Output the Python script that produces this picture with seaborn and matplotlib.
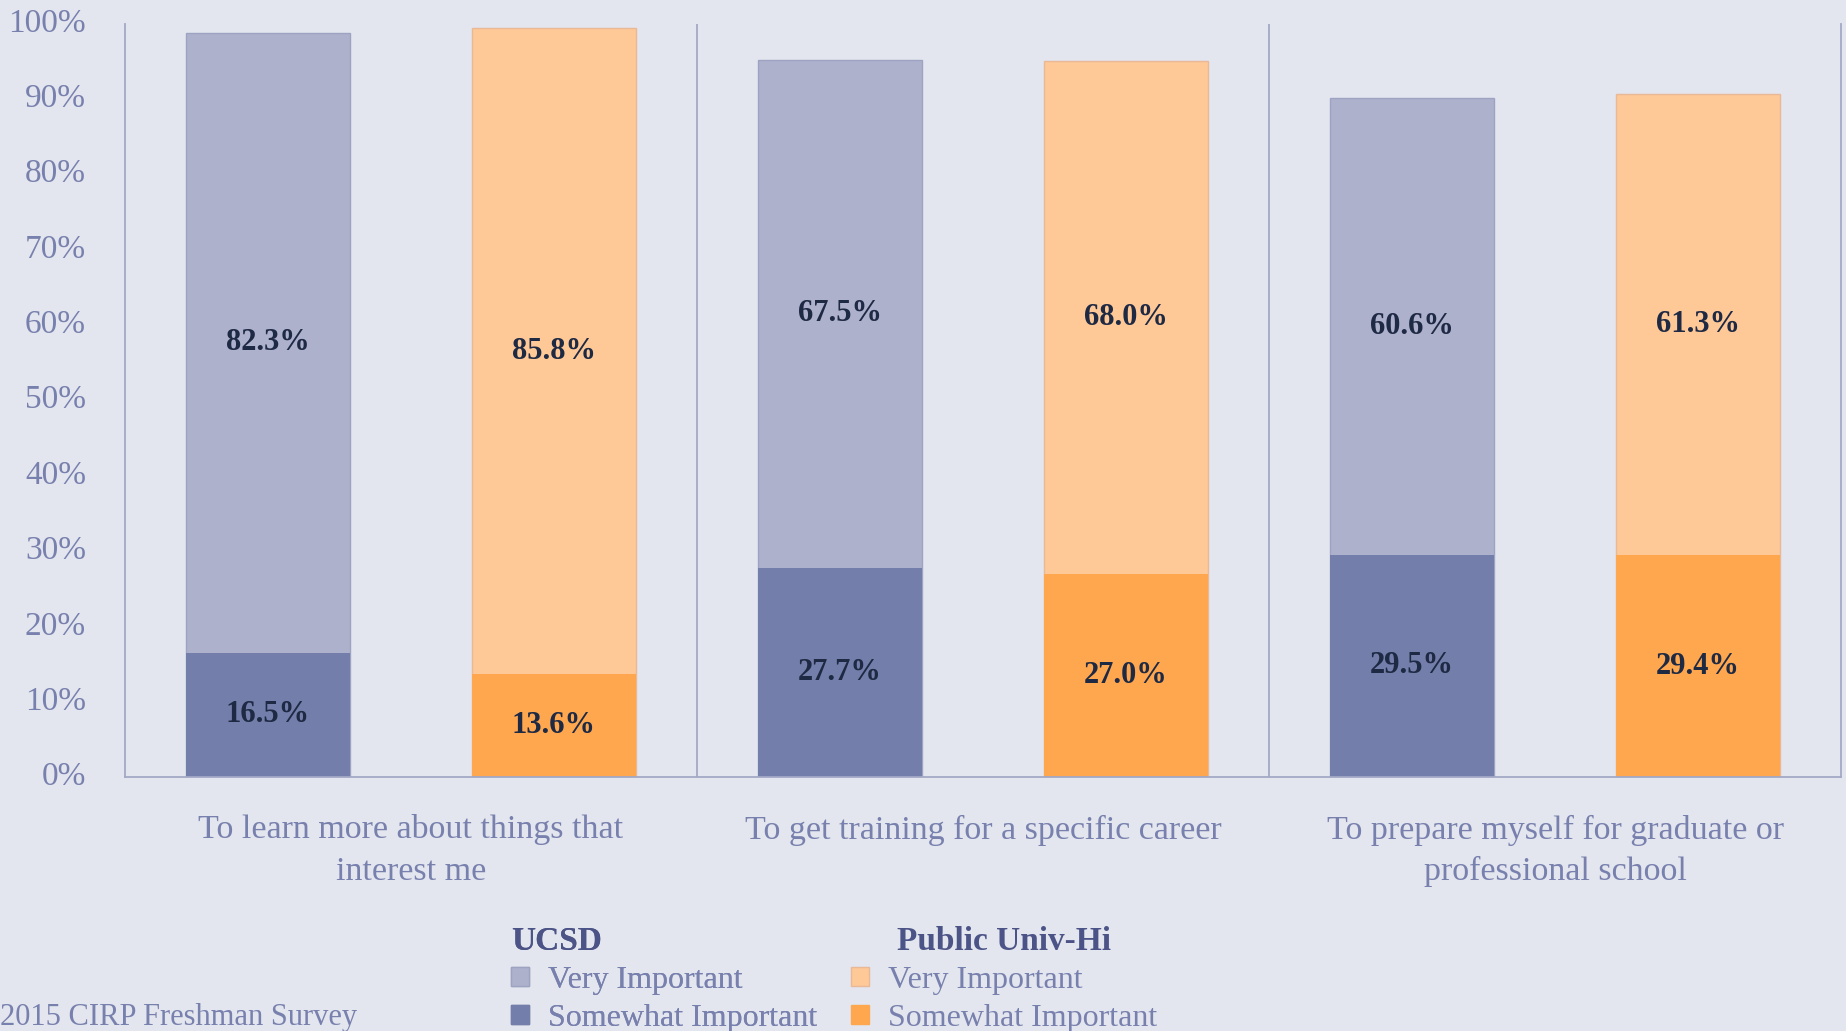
import numpy as np
import pandas as pd
import matplotlib.pyplot as plt
import seaborn as sns
from matplotlib.patches import Patch

# ---- data ----
categories = ["To learn more about things that\ninterest me",
              "To get training for a specific career",
              "To prepare myself for graduate or\nprofessional school"]
schools = ["UCSD", "Public Univ-Hi"]
ucsd_very = [82.3, 67.5, 60.6]
ucsd_somewhat = [16.5, 27.7, 29.5]
pub_very = [85.8, 68.0, 61.3]
pub_somewhat = [13.6, 27.0, 29.4]
y_ticks = [0, 10, 20, 30, 40, 50, 60, 70, 80, 90, 100]
source = "2015 CIRP Freshman Survey"

rows = []
for i, cat in enumerate(categories):
    rows.append((cat, "UCSD", ucsd_very[i], ucsd_somewhat[i]))
    rows.append((cat, "Public Univ-Hi", pub_very[i], pub_somewhat[i]))
df = pd.DataFrame(rows, columns=["category", "school", "very", "somewhat"])
df["total"] = df["very"] + df["somewhat"]

# colours
bg = "#E3E6EE"
light = {"UCSD": "#ADB1CC", "Public Univ-Hi": "#FFC997"}
dark = {"UCSD": "#737EAB", "Public Univ-Hi": "#FFA74F"}
edge_light = {"UCSD": "#9EA3C2", "Public Univ-Hi": "#E9B896"}
axis_col = "#A3A8C6"
tick_col = "#7880AE"
label_col = "#1E2943"
head_col = "#4C5487"

sns.set_style("white")
plt.rcParams["font.family"] = ["Liberation Serif", "DejaVu Serif"]

fig = plt.figure(figsize=(18.46, 10.31), dpi=100, facecolor=bg)
ax = fig.add_axes([0.0677, 0.2464, 0.9296, 0.7308], facecolor=bg)

# total bar first (light = very important on top), then somewhat on top of it
sns.barplot(data=df, x="category", y="total", hue="school", hue_order=schools,
            palette=light, saturation=1, width=1.0, gap=0.424, ax=ax, legend=False,
            linewidth=1, edgecolor="#A0A5C3")
sns.barplot(data=df, x="category", y="somewhat", hue="school", hue_order=schools,
            palette=dark, saturation=1, width=1.0, gap=0.424, ax=ax, legend=False,
            linewidth=0)

# tint edges per school
for k, school in enumerate(schools):
    for p in ax.containers[k]:
        p.set_edgecolor(edge_light[school])

# value labels
for k, school in enumerate(schools):
    sub = df[df["school"] == school].reset_index(drop=True)
    for p, (_, r) in zip(ax.containers[k], sub.iterrows()):
        xc = p.get_x() + p.get_width() / 2
        ax.text(xc, r["somewhat"] + r["very"] / 2, f"{r['very']:.1f}%",
                ha="center", va="center", fontsize=22, fontweight="bold", color=label_col)
        ax.text(xc, r["somewhat"] / 2, f"{r['somewhat']:.1f}%",
                ha="center", va="center", fontsize=22, fontweight="bold", color=label_col)

ax.set_xlim(-0.5, len(categories) - 0.5)
ax.set_ylim(0, 100)
ax.set_yticks(y_ticks)
ax.set_yticklabels([f"{t}%" for t in y_ticks])
ax.set_xlabel("")
ax.set_ylabel("")
ax.tick_params(axis="y", length=0, pad=28, labelsize=24, labelcolor=tick_col)
ax.tick_params(axis="x", length=0, pad=27, labelsize=24.5, labelcolor=tick_col)
for lab in ax.get_yticklabels():
    lab.set_verticalalignment("center")
for lab in ax.get_xticklabels():
    lab.set_linespacing(1.45)

# category separators
for xb in np.arange(0.5, len(categories) - 0.5, 1):
    ax.axvline(xb, color=axis_col, lw=1.3)
ax.spines["top"].set_visible(False)
for s in ["left", "bottom", "right"]:
    ax.spines[s].set_color(axis_col)
    ax.spines[s].set_linewidth(1.3)

# legends
def school_legend(school, x, title_align):
    handles = [Patch(facecolor=light[school], edgecolor=edge_light[school], label="Very Important"),
               Patch(facecolor=dark[school], edgecolor=dark[school], label="Somewhat Important")]
    leg = fig.legend(handles=handles, title=school, loc="upper left",
                     bbox_to_anchor=(x, 0.102), frameon=False, fontsize=23,
                     handlelength=0.55, handleheight=0.55, handletextpad=0.6,
                     labelspacing=0.28, borderpad=0, borderaxespad=0)
    leg.get_title().set_fontsize(24)
    leg.get_title().set_fontweight("bold")
    leg.get_title().set_color(head_col)
    leg._legend_box.align = title_align
    for t in leg.get_texts():
        t.set_color(tick_col)
    return leg

l1 = school_legend("UCSD", 0.277, "left")
fig.add_artist(l1)
school_legend("Public Univ-Hi", 0.461, "center")

fig.text(0.0, 0.006, source, fontsize=22, color=tick_col, ha="left", va="baseline")

fig.savefig("out.png", dpi=100, facecolor=bg)
